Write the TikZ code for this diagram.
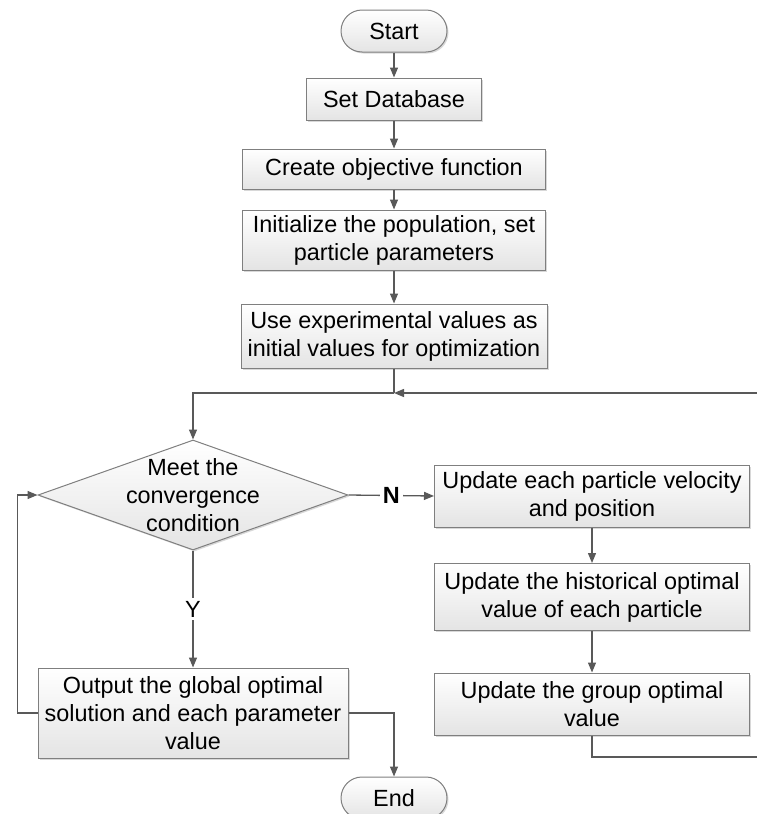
\documentclass[tikz,border=0pt]{standalone}
\usepackage{fontspec}
\setmainfont{Liberation Sans}
\usetikzlibrary{shapes.geometric,arrows.meta,shadows}
\definecolor{edgegray}{HTML}{7F7F7F}
\definecolor{wiregray}{HTML}{595959}
\definecolor{boxlow}{HTML}{E4E4E4}
\begin{document}
\begin{tikzpicture}[x=1pt,y=-1pt,
  font=\fontsize{23.4}{28}\selectfont,
  base/.style={draw=edgegray, line width=1pt, top color=white, bottom color=boxlow,
    drop shadow={shadow xshift=1.5pt,shadow yshift=-1.5pt,fill=black!30,opacity=0.5},
    inner sep=0pt, align=center},
  procbox/.style={base, rectangle},
  term/.style={base, rectangle, rounded corners=21pt},
  decision/.style={base, diamond},
  wire/.style={draw=wiregray, line width=1.3pt},
  flow/.style={wire, -{Triangle[length=10pt,width=8pt]}},
  tag/.style={fill=white, inner sep=3pt}
]
\useasboundingbox (0,0) rectangle (757,814);

% main column
\node[term, minimum width=106pt, minimum height=42pt] (start) at (394,31) {Start};
\node[procbox, minimum width=175pt, minimum height=42pt] (setdb) at (394,99) {Set Database};
\node[procbox, minimum width=303pt, minimum height=40pt] (obj) at (394,169) {Create objective function};
\node[procbox, minimum width=303pt, minimum height=60pt] (init) at (394,240) {Initialize the population, set\\particle parameters};
\node[procbox, minimum width=306pt, minimum height=64pt] (use) at (394,336) {Use experimental values as\\initial values for optimization};
\coordinate (join) at (394,393);

% decision and output
\node[decision, minimum width=310pt, minimum height=110pt] (cond) at (193,495) {};
\node[align=center] at (cond) {Meet the\\convergence\\condition};
\node[procbox, minimum width=310pt, minimum height=90pt] (out) at (193,713) {Output the global optimal\\solution and each parameter\\value};
\node[term, minimum width=106pt, minimum height=42pt] (end) at (394,798) {End};

% update column
\node[procbox, minimum width=315pt, minimum height=62pt] (upd) at (592,496) {Update each particle velocity\\and position};
\node[procbox, minimum width=315pt, minimum height=67pt] (hist) at (592,597) {Update the historical optimal\\value of each particle};
\node[procbox, minimum width=315pt, minimum height=62pt] (grp) at (592,704) {Update the group optimal\\value};
\coordinate (loopr) at (772,757);

% connectors
\draw[flow] (start) -- (setdb);
\draw[flow] (setdb) -- (obj);
\draw[flow] (obj) -- (init);
\draw[flow] (init) -- (use);
\draw[wire] (use.south) -- (join);
\draw[flow] (join) -| (cond.north);
\draw[flow] (cond.east) -- node[tag]{\bfseries N} (upd.west);
\draw[flow] (cond.south) -- node[tag]{Y} (out.north);
\draw[flow] (out.west) -- ++(-20,0) |- (cond.west);
\draw[flow] (out.east) -| (end.north);
\draw[flow] (upd) -- (hist);
\draw[flow] (hist) -- (grp);
\draw[flow] (grp.south) |- (loopr) |- (join);
\end{tikzpicture}
\end{document}
